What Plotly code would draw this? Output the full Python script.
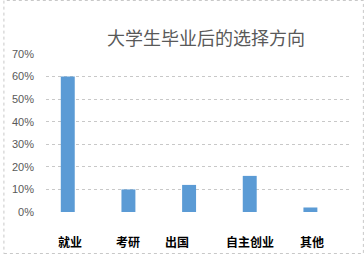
import plotly.graph_objects as go

categories = ["就业", "考研", "出国", "自主创业", "其他"]
values = [0.60, 0.10, 0.12, 0.16, 0.02]
y_ticks = [0, 0.1, 0.2, 0.3, 0.4, 0.5, 0.6, 0.7]
y_tick_labels = ["0%", "10%", "20%", "30%", "40%", "50%", "60%", "70%"]
title_text = "大学生毕业后的选择方向"

W, H = 364, 254
L, R, T, B = 43, 14, 54, 42

fig = go.Figure(go.Bar(
    x=categories, y=values, width=0.23,
    marker=dict(color="#5b9bd5", line=dict(width=0)),
))

label_shift = [2, 0, -12, 0, 2]
annotations = [
    dict(x=c, y=0, xref="x", yref="y", yshift=-29, xshift=s, text=f"<b>{c}</b>",
         showarrow=False, font=dict(family="Noto Sans CJK SC", size=12, color="#000000"))
    for c, s in zip(categories, label_shift)
]
pw, ph = W - L - R, H - T - B
annotations.append(dict(
    x=(205 - L) / pw, y=1 + (T - 22) / ph, xref="paper", yref="paper",
    text=title_text, showarrow=False,
    font=dict(family="Noto Sans CJK SC", size=18, color="#595959")))

fig.update_layout(
    width=W, height=H,
    margin=dict(l=L, r=R, t=T, b=B),
    paper_bgcolor="white", plot_bgcolor="white",
    showlegend=False,
    annotations=annotations,
    shapes=[dict(type="rect", xref="paper", yref="paper",
                 x0=(-L + 0.5) / pw, x1=(W - L - 0.5) / pw,
                 y0=(-B + 0.5) / ph, y1=1 + (T - 0.5) / ph,
                 line=dict(color="#c8c8c8", width=1, dash="dot"))],
    xaxis=dict(showticklabels=False, showgrid=False, zeroline=False, showline=False,
               range=[-0.359, 4.653]),
    yaxis=dict(range=[0, 0.7], tickvals=y_ticks, ticktext=y_tick_labels,
               showgrid=True, gridcolor="#c8c8c8", griddash="dot", gridwidth=1,
               zeroline=False, showline=False, ticklabelstandoff=11,
               tickfont=dict(family="Liberation Sans", size=11, color="#595959")),
)

fig.write_html("out.html")
